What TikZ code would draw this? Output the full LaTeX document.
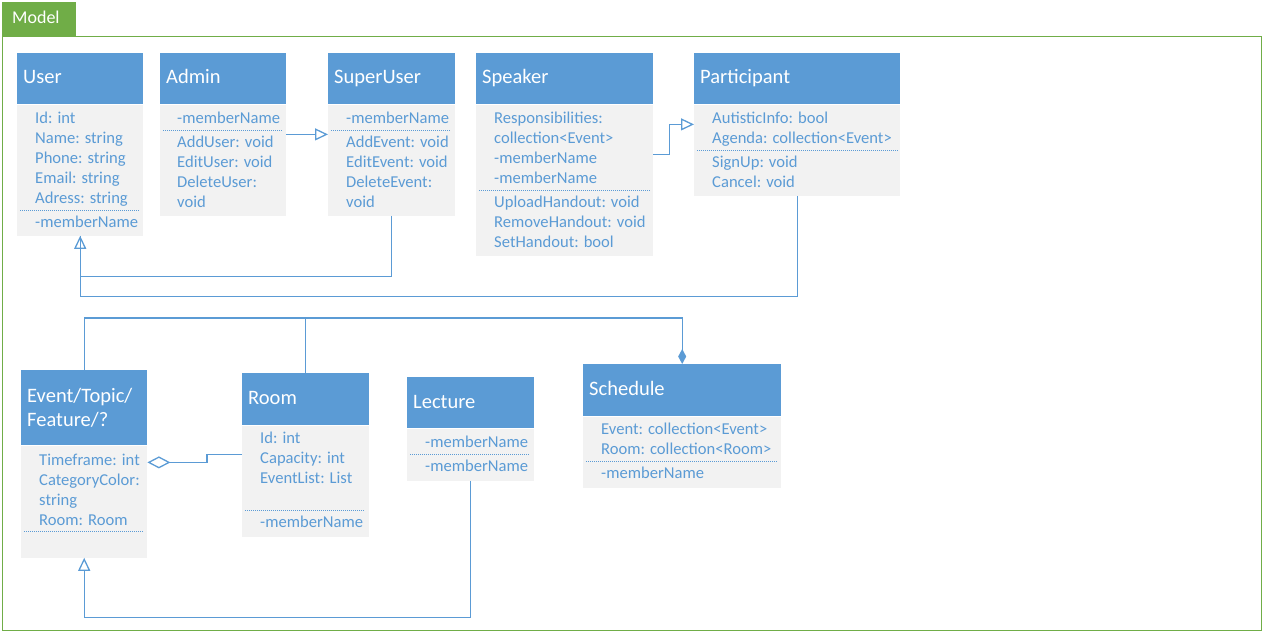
\documentclass[tikz,border=0pt]{standalone}
\usepackage{fontspec}
\setmainfont{Carlito}
\usetikzlibrary{arrows.meta,calc,positioning}
\definecolor{umlblue}{HTML}{5B9BD5}
\definecolor{umlgrey}{HTML}{F2F2F2}
\definecolor{modelgreen}{HTML}{70AD47}

\begin{document}
\begin{tikzpicture}[x=1pt,y=-1pt]

\tikzset{head/.style={fill=umlblue,inner sep=0pt,anchor=north west},
box/.style={fill=umlgrey,inner sep=0pt},
title/.style={anchor=base west,inner sep=0pt,text=white,font=\fontsize{20.5}{24}\selectfont},
member/.style={anchor=base west,inner sep=0pt,text=umlblue,font=\fontsize{16.6}{20}\selectfont},
sep/.style={draw=umlblue,line width=0.6pt,dash pattern=on 1pt off 1pt},
link/.style={draw=umlblue,line width=1.3pt},
inherit/.style={-{Triangle[open,length=13pt,width=12pt]}},
aggr/.style={-{Diamond[open,length=23pt,width=12pt]}},
compo/.style={-{Diamond[length=15pt,width=8pt]}}}

\useasboundingbox (0,0) rectangle (1270,634);

% Frame
\draw[modelgreen,line width=1pt] (2,37) rectangle (1261,630);
\node[fill=modelgreen,anchor=north west,inner sep=0pt,minimum width=74pt,minimum height=35pt] (modelTab) at (2,2) {};
\node[anchor=base west,inner sep=0pt,text=white,font=\fontsize{18}{22}\selectfont] (modelLabel) at (12,24) {Model};

% Top row classes
\node[head,minimum width=126pt,minimum height=51pt] (userH) at (17,53) {};
\node[box,minimum width=126pt,minimum height=131pt,below=0pt of userH] (userB) {};
\node[head,minimum width=126pt,minimum height=51pt] (adminH) at (160,53) {};
\node[box,minimum width=126pt,minimum height=111pt,below=0pt of adminH] (adminB) {};
\node[head,minimum width=127pt,minimum height=51pt] (superH) at (328,53) {};
\node[box,minimum width=127pt,minimum height=111pt,below=0pt of superH] (superB) {};
\node[head,minimum width=177pt,minimum height=51pt] (speakH) at (476,53) {};
\node[box,minimum width=177pt,minimum height=151pt,below=0pt of speakH] (speakB) {};
\node[head,minimum width=206pt,minimum height=51pt] (partH) at (694,53) {};
\node[box,minimum width=206pt,minimum height=91pt,below=0pt of partH] (partB) {};

% Bottom row classes
\node[head,minimum width=126pt,minimum height=75pt] (eventH) at (21,370) {};
\node[box,minimum width=126pt,minimum height=112pt,below=0pt of eventH] (eventB) {};
\node[head,minimum width=127pt,minimum height=52pt] (roomH) at (242,373) {};
\node[box,minimum width=127pt,minimum height=111pt,below=0pt of roomH] (roomB) {};
\node[head,minimum width=127pt,minimum height=51pt] (lectH) at (407,377) {};
\node[box,minimum width=127pt,minimum height=52pt,below=0pt of lectH] (lectB) {};
\node[head,minimum width=198pt,minimum height=52pt] (schedH) at (583,364) {};
\node[box,minimum width=198pt,minimum height=71pt,below=0pt of schedH] (schedB) {};

% Titles
\node[title] (userT) at (23,84) {User};
\node[title] (adminT) at (166,84) {Admin};
\node[title] (superT) at (334,84) {SuperUser};
\node[title] (speakT) at (482,84) {Speaker};
\node[title] (partT) at (700,84) {Participant};
\node[title] (eventT) at (27,402) {Event/Topic/};
\node[title] (eventT2) at (27,426) {Feature/?};
\node[title] (roomT) at (248,404) {Room};
\node[title] (lectT) at (413,408) {Lecture};
\node[title] (schedT) at (589,395) {Schedule};

% Members
\foreach \t [count=\i from 0] in {Id: int,Name: string,Phone: string,Email: string,Adress: string} \node[member] (userA\i) at (35,123+20*\i) {\t};
\node[member] (userM) at (35,227) {-memberName}; \draw[sep] (20,210) -- (140,210);

\node[member] (adminA) at (177,123) {-memberName}; \draw[sep] (163,130) -- (282,130);
\foreach \t [count=\i from 0] in {AddUser: void,EditUser: void,DeleteUser:,void} \node[member] (adminM\i) at (177,147+20*\i) {\t};

\node[member] (superA) at (346,123) {-memberName}; \draw[sep] (331,130) -- (451,130);
\foreach \t [count=\i from 0] in {AddEvent: void,EditEvent: void,DeleteEvent:,void} \node[member] (superM\i) at (346,147+20*\i) {\t};

\foreach \t [count=\i from 0] in {Responsibilities:,collection<Event>,-memberName,-memberName} \node[member] (speakA\i) at (494,123+20*\i) {\t};
\draw[sep] (479,190) -- (650,190);
\foreach \t [count=\i from 0] in {UploadHandout: void,RemoveHandout: void,SetHandout: bool} \node[member] (speakM\i) at (494,207+20*\i) {\t};

\foreach \t [count=\i from 0] in {AutisticInfo: bool,Agenda: collection<Event>} \node[member] (partA\i) at (712,123+20*\i) {\t};
\draw[sep] (697,150) -- (898,150);
\foreach \t [count=\i from 0] in {SignUp: void,Cancel: void} \node[member] (partM\i) at (712,167+20*\i) {\t};

\foreach \t [count=\i from 0] in {Timeframe: int,CategoryColor:,string,Room: Room} \node[member] (eventA\i) at (39,465+20*\i) {\t};
\draw[sep] (24,531) -- (144,531);

\foreach \t [count=\i from 0] in {Id: int,Capacity: int,EventList: List} \node[member] (roomA\i) at (260,443+20*\i) {\t};
\draw[sep] (245,510) -- (365,510); \node[member] (roomM) at (260,527) {-memberName};

\node[member] (lectA) at (425,447) {-memberName}; \draw[sep] (410,454) -- (530,454);
\node[member] (lectM) at (425,471) {-memberName};

\foreach \t [count=\i from 0] in {Event: collection<Event>,Room: collection<Room>} \node[member] (schedA\i) at (601,434+20*\i) {\t};
\draw[sep] (586,461) -- (778,461); \node[member] (schedM) at (601,478) {-memberName};

% Edges
\draw[link,inherit] ($(adminB.north east)+(0,30)$) -- ($(superB.north west)+(0,30)$);
\draw[link,inherit] ($(speakB.north east)+(0,50)$) -- ++(16,0) |- ($(partB.north west)+(0,20)$);
\draw[link] (partB.south) -- ++(0,101) -| (userB.south);
\draw[link,inherit] (superB.south) -- ++(0,61) -| (userB.south);
\draw[link,compo] (eventH.north) -- ++(0,-52) -| (schedH.north);
\draw[link] (roomH.north) -- ++(0,-55);
\draw[link,aggr] ($(roomB.north west)+(0,29)$) -- ++(-35,0) |- ($(eventB.north east)+(0,17)$);
\draw[link,inherit] (lectB.south) -- ++(0,137) -| (eventB.south);

\end{tikzpicture}
\end{document}
